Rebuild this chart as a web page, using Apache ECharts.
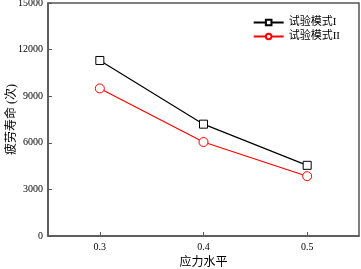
<!DOCTYPE html>
<html>
<head>
<meta charset="utf-8">
<script src="https://cdn.jsdelivr.net/npm/echarts@6/dist/echarts.min.js"></script>
<style>
    html, body {margin: 0; padding: 0; background: #fff;}
    #chart {width: 361px; height: 269px;}
</style>
</head>
<body>
<div id="chart"></div>
<script>
    // stress level vs fatigue life
    const stressLevels = [0.3, 0.4, 0.5];
    const modeI = [11300, 7200, 4550];
    const modeII = [9500, 6050, 3850];
    const seriesNames = ['试验模式I', '试验模式II'];

    const serif = '"Liberation Serif", "Noto Sans CJK SC", serif';
    const axisColor = '#555';

    let chart = echarts.init(document.getElementById('chart'));
    chart.setOption({
        animation: false,
        grid: {
            left: 48,
            right: 2,
            top: 3,
            bottom: 33,
            outerBoundsMode: 'none',
            containLabel: false,
            show: true,
            borderColor: axisColor,
            borderWidth: 1.5
        },
        legend: {
            top: 12,
            right: 16,
            orient: 'vertical',
            itemWidth: 30,
            itemHeight: 7,
            itemGap: 3,
            textStyle: {fontFamily: serif, fontSize: 11, color: '#000'},
            data: seriesNames
        },
        xAxis: {
            type: 'value',
            min: 0.25,
            max: 0.55,
            interval: 0.05,
            name: '应力水平',
            nameLocation: 'middle',
            nameGap: 21,
            nameMoveOverlap: false,
            nameTextStyle: {fontFamily: serif, fontSize: 12, color: '#000'},
            axisLine: {show: true, lineStyle: {color: axisColor, width: 1.5}},
            axisTick: {
                inside: true, length: 4,
                lineStyle: {color: axisColor},
                customValues: stressLevels
            },
            axisLabel: {
                fontFamily: serif, fontSize: 10, color: '#000', margin: 6,
                customValues: stressLevels,
                formatter: v => v.toFixed(1)
            },
            splitLine: {show: false}
        },
        yAxis: {
            type: 'value',
            min: 0,
            max: 15000,
            interval: 3000,
            name: '疲劳寿命 (次)',
            nameLocation: 'middle',
            nameGap: 30,
            nameMoveOverlap: false,
            nameTextStyle: {fontFamily: serif, fontSize: 12, color: '#000'},
            axisLine: {show: true, lineStyle: {color: axisColor, width: 1.5}},
            axisTick: {inside: true, length: 4, lineStyle: {color: axisColor}},
            axisLabel: {
                fontFamily: serif, fontSize: 10, color: '#000', margin: 5,
                formatter: v => String(v)
            },
            splitLine: {show: false}
        },
        series: [
            {
                name: seriesNames[0],
                type: 'line',
                symbol: 'rect',
                symbolSize: 8,
                itemStyle: {color: '#fff', borderColor: '#000', borderWidth: 1},
                lineStyle: {color: '#000', width: 1.2},
                data: stressLevels.map((x, i) => [x, modeI[i]])
            },
            {
                name: seriesNames[1],
                type: 'line',
                symbol: 'circle',
                symbolSize: 9,
                itemStyle: {color: '#fff', borderColor: '#f00', borderWidth: 1},
                lineStyle: {color: '#f00', width: 1.2},
                data: stressLevels.map((x, i) => [x, modeII[i]])
            }
        ]
    });
</script>
</body>
</html>
